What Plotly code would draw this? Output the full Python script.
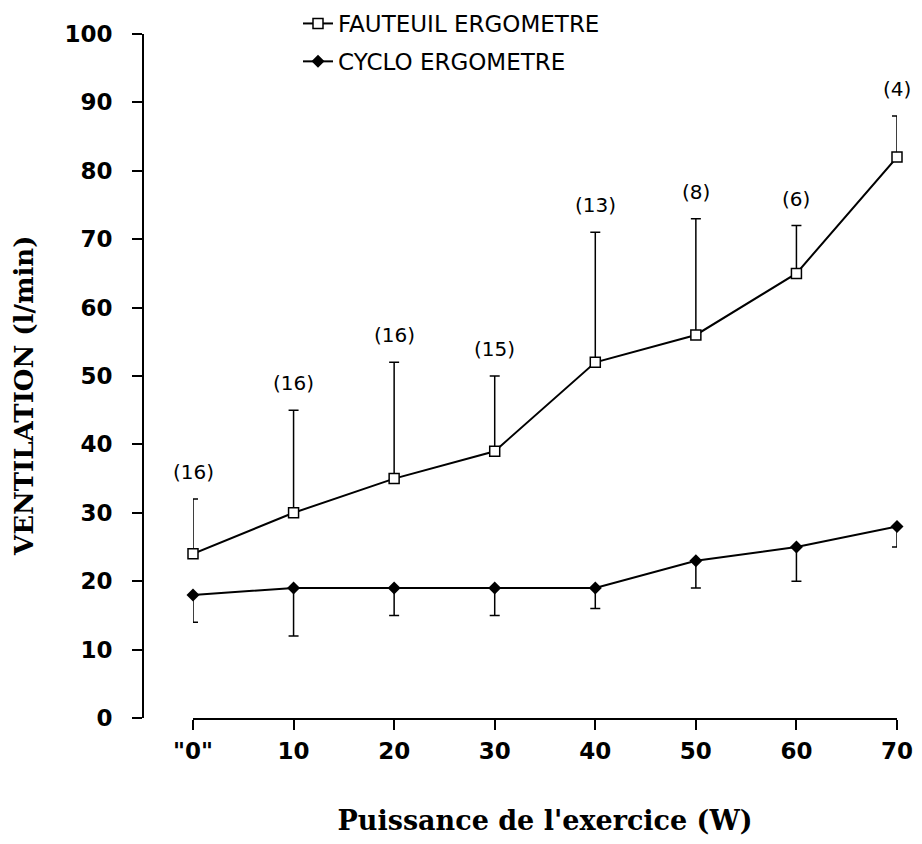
import plotly.graph_objects as go

# ---- data ----
power = [0, 10, 20, 30, 40, 50, 60, 70]
tick_text = ['"0"', "10", "20", "30", "40", "50", "60", "70"]

fauteuil = [24, 30, 35, 39, 52, 56, 65, 82]
fauteuil_upper = [32, 45, 52, 50, 71, 73, 72, 88]
n_subjects = ["(16)", "(16)", "(16)", "(15)", "(13)", "(8)", "(6)", "(4)"]

cyclo = [18, 19, 19, 19, 19, 23, 25, 28]
cyclo_lower = [14, 12, 15, 15, 16, 19, 20, 25]

fauteuil_err = [u - v for u, v in zip(fauteuil_upper, fauteuil)]
cyclo_err = [v - l for v, l in zip(cyclo, cyclo_lower)]
zeros = [0] * len(power)

fig = go.Figure()

fig.add_trace(go.Scatter(
    x=power, y=fauteuil, name="FAUTEUIL ERGOMETRE",
    mode="lines+markers", cliponaxis=False,
    line=dict(color="black", width=2),
    marker=dict(symbol="square", size=10, color="white",
                line=dict(color="black", width=1.5)),
    error_y=dict(type="data", symmetric=False, array=fauteuil_err,
                 arrayminus=zeros, color="black", thickness=1.5, width=5),
    legendgroup="a",
))

fig.add_trace(go.Scatter(
    x=power, y=cyclo, name="CYCLO ERGOMETRE",
    mode="lines+markers", cliponaxis=False,
    line=dict(color="black", width=2),
    marker=dict(symbol="diamond", size=10, color="black"),
    error_y=dict(type="data", symmetric=False, array=zeros,
                 arrayminus=cyclo_err, color="black", thickness=1.5, width=5),
    legendgroup="b",
))

for x, top, lab in zip(power, fauteuil_upper, n_subjects):
    fig.add_annotation(x=x, y=top, text=lab, showarrow=False,
                       yshift=27, font=dict(family="DejaVu Sans", size=20, color="black"))

# figure is rendered with an 8px body margin in the page
W, H = 906, 828
left_px, right_px, top_px, bottom_px = 135, 17, 26, 118
plot_w = W - left_px - right_px
plot_h = H - top_px - bottom_px
x_start = (185 - left_px) / plot_w

fig.add_annotation(
    text="VENTILATION (l/min)", textangle=-90, showarrow=False,
    xref="paper", yref="paper",
    x=(16 - left_px) / plot_w, y=(H - bottom_px - 388) / plot_h,
    xanchor="center", yanchor="middle",
    font=dict(family="DejaVu Serif", size=26, color="black", weight="bold"),
)

fig.update_layout(
    width=W, height=H,
    margin=dict(l=left_px, r=right_px, t=top_px, b=bottom_px, autoexpand=False),
    paper_bgcolor="white", plot_bgcolor="white",
    showlegend=True,
    legend=dict(x=(290 - left_px) / plot_w, y=(H - bottom_px + 6) / plot_h,
                xanchor="left", yanchor="top",
                font=dict(family="DejaVu Sans", size=23, color="black"),
                traceorder="grouped", tracegroupgap=5, bgcolor="rgba(0,0,0,0)"),
    xaxis=dict(
        domain=[x_start, 1], range=[0, 70],
        tickvals=power, ticktext=tick_text,
        showline=True, linecolor="black", linewidth=2,
        ticks="outside", ticklen=10, tickwidth=2, tickcolor="black",
        showgrid=False, zeroline=False,
        tickfont=dict(family="DejaVu Sans", size=23, color="black", weight="bold"),
        ticklabelstandoff=1,
        title=dict(text="Puissance de l'exercice (W)", standoff=50,
                   font=dict(family="DejaVu Serif", size=27, color="black", weight="bold")),
    ),
    yaxis=dict(
        anchor="free", position=0, range=[0, 100], dtick=10,
        showline=True, linecolor="black", linewidth=2,
        ticks="outside", ticklen=10, tickwidth=2, tickcolor="black",
        showgrid=False, zeroline=False,
        tickfont=dict(family="DejaVu Sans", size=23, color="black", weight="bold"),
        ticklabelstandoff=15,
    ),
)

fig.write_html("out.html")
